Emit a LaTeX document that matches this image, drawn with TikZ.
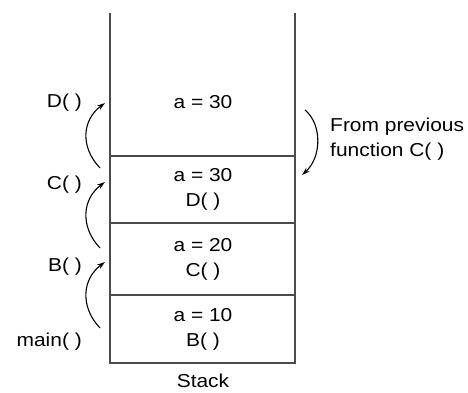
\documentclass[tikz,border=0pt]{standalone}
\usepackage{fontspec}
\setmainfont[FakeStretch=1.12]{Liberation Sans}
\usetikzlibrary{arrows.meta}
\begin{document}
\begin{tikzpicture}[x=1pt,y=1pt,
  stackline/.style={draw=black!70, line width=1.1pt},
  callarrow/.style={draw=black, line width=1.1pt, -{Stealth[length=8pt,width=5pt]}},
  lbl/.style={font=\fontsize{18.7}{25}\selectfont, inner sep=0pt, align=center}]
\useasboundingbox (0,0) rectangle (468,392);
% stack outline
\draw[stackline] (110,379) -- (110,29) -- (295,29) -- (295,379);
\draw[stackline] (110,236) -- (295,236);
\draw[stackline] (110,169) -- (295,169);
\draw[stackline] (110,97) -- (295,97);
% cell texts
\node[lbl] (t1) at (203,290) {a = 30};
\node[lbl] (t2) at (203,203) {a = 30\\D( )};
\node[lbl] (t3) at (203,132.5) {a = 20\\C( )};
\node[lbl] (t4) at (203,62.5) {a = 10\\B( )};
\node[lbl] (stk) at (203,11) {Stack};
% left labels
\node[lbl, anchor=east] (ld) at (82,289) {D( )};
\node[lbl, anchor=east] (lc) at (82,207) {C( )};
\node[lbl, anchor=east] (lb) at (82,125) {B( )};
\node[lbl, anchor=east] (lm) at (82,50) {main( )};
% right label
\node[lbl, anchor=west, align=left] (from) at (330,253) {From previous\\function C( )};
% arrow endpoints
\coordinate (a1s) at (100,224); \coordinate (a1e) at (105,289);
\coordinate (a2s) at (100,144); \coordinate (a2e) at (105,210);
\coordinate (a3s) at (100,64);  \coordinate (a3e) at (105,130);
\coordinate (rs) at (305,282);  \coordinate (re) at (302,217);
\draw[callarrow] (a1s) .. controls (80,245) and (82,272) .. (a1e);
\draw[callarrow] (a2s) .. controls (80,165) and (82,193) .. (a2e);
\draw[callarrow] (a3s) .. controls (80,85) and (82,113) .. (a3e);
\draw[callarrow] (rs) .. controls (322,268) and (322,235) .. (re);
\end{tikzpicture}
\end{document}
